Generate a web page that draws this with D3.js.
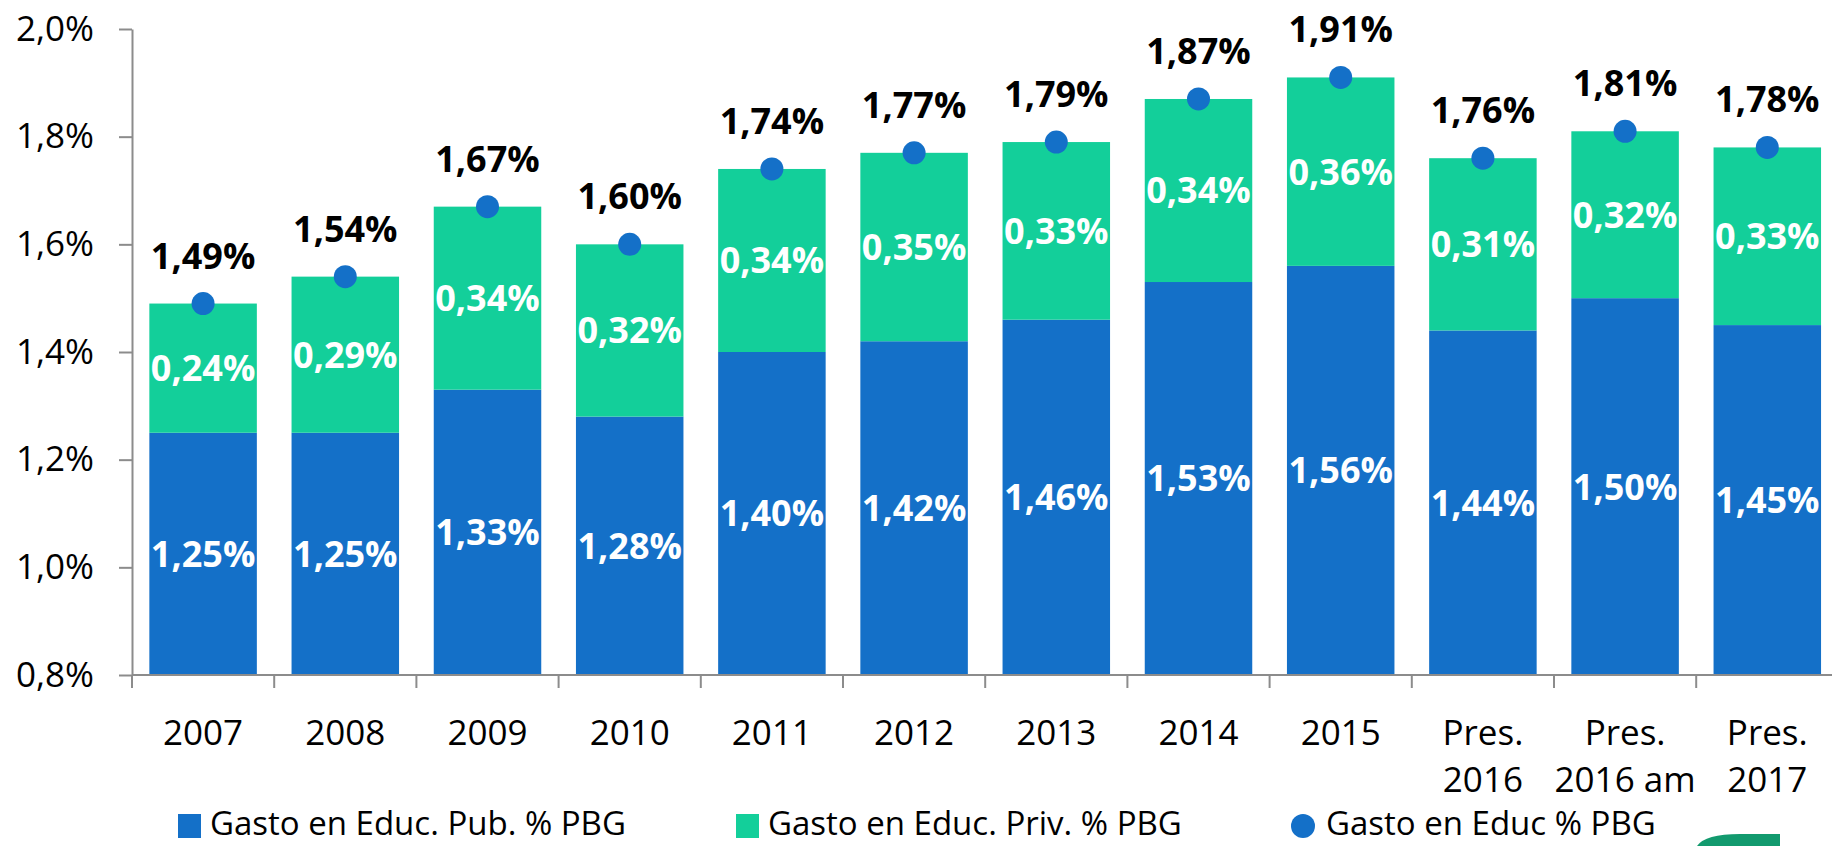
<!DOCTYPE html>
<html>
<head>
<meta charset="utf-8">
<script src="https://cdn.jsdelivr.net/npm/d3@7/dist/d3.min.js"></script>
<style>
  body { margin: 0; background: #fff; overflow: hidden; }
  text { font-family: "Open Sans", "Noto Sans", sans-serif; }
</style>
</head>
<body>
<div id="chart"></div>
<script>
// data
const categories = ["2007", "2008", "2009", "2010", "2011", "2012", "2013", "2014", "2015", "Pres.\n2016", "Pres.\n2016 am", "Pres.\n2017"]
const pubValues = [1.25, 1.25, 1.33, 1.28, 1.40, 1.42, 1.46, 1.53, 1.56, 1.44, 1.50, 1.45]
const privValues = [0.24, 0.29, 0.34, 0.32, 0.34, 0.35, 0.33, 0.34, 0.36, 0.31, 0.32, 0.33]
const totalValues = [1.49, 1.54, 1.67, 1.60, 1.74, 1.77, 1.79, 1.87, 1.91, 1.76, 1.81, 1.78]
const yTicks = [0.8, 1.0, 1.2, 1.4, 1.6, 1.8, 2.0]
const legendLabels = ["Gasto en Educ. Pub. % PBG", "Gasto en Educ. Priv. % PBG", "Gasto en Educ % PBG"]

const width = 1832
const height = 846
const blue = "#1470c8"
const green = "#13cf9a"
const axisColor = "#8c8c8c"

const svg = d3
  .select("#chart")
  .append("svg")
  .attr("width", width)
  .attr("height", height)

const left = 132
const step = 142.2
const x = d3
  .scaleBand()
  .domain(categories)
  .range([left, left + step * categories.length])
  .paddingInner(0.244)
  .paddingOuter(0.122)

const y = d3.scaleLinear().domain([0.8, 2.0]).range([675, 29])

const fmt = (v, p) => d3.format("." + p + "f")(v).replace(".", ",") + "%"

//y axis
const yAxis = svg
  .append("g")
  .attr("transform", "translate(" + left + ",0)")
  .call(d3.axisLeft(y).tickValues(yTicks).tickSize(13).tickSizeOuter(0).tickPadding(25).tickFormat(d => fmt(d, 1)))
yAxis.selectAll("text").style("font-size", "35px").attr("fill", "#000")
yAxis.selectAll("line, path").attr("stroke", axisColor).attr("stroke-width", 2)

//bars - public part
svg
  .append("g")
  .selectAll("rect")
  .data(categories)
  .enter()
  .append("rect")
  .attr("x", d => x(d))
  .attr("width", x.bandwidth())
  .attr("y", (d, i) => y(pubValues[i]))
  .attr("height", (d, i) => y(0.8) - y(pubValues[i]))
  .attr("fill", blue)

//bars - private part, from the public top up to the total
svg
  .append("g")
  .selectAll("rect")
  .data(categories)
  .enter()
  .append("rect")
  .attr("x", d => x(d))
  .attr("width", x.bandwidth())
  .attr("y", (d, i) => y(totalValues[i]))
  .attr("height", (d, i) => y(pubValues[i]) - y(totalValues[i]))
  .attr("fill", green)

//x axis line and boundary ticks
const xAxis = svg.append("g").attr("transform", "translate(0," + y(0.8) + ")")
xAxis
  .append("line")
  .attr("x1", left)
  .attr("x2", width)
  .attr("stroke", axisColor)
  .attr("stroke-width", 2)
xAxis
  .selectAll(".tick")
  .data(d3.range(categories.length + 1))
  .enter()
  .append("line")
  .attr("x1", i => left + i * x.step())
  .attr("x2", i => left + i * x.step())
  .attr("y1", 0)
  .attr("y2", 13)
  .attr("stroke", axisColor)
  .attr("stroke-width", 2)

//category labels (two lines for the budget ones)
const catLabels = svg
  .append("g")
  .selectAll("text")
  .data(categories)
  .enter()
  .append("text")
  .attr("text-anchor", "middle")
  .style("font-size", "35px")
  .attr("fill", "#000")
catLabels
  .selectAll("tspan")
  .data(d => d.split("\n").map(t => ({ t: t, c: d })))
  .enter()
  .append("tspan")
  .attr("x", d => x(d.c) + x.bandwidth() / 2)
  .attr("y", (d, i) => 745 + i * 47)
  .text(d => d.t)

//white labels inside the segments
svg
  .append("g")
  .selectAll("text")
  .data(categories)
  .enter()
  .append("text")
  .attr("x", d => x(d) + x.bandwidth() / 2)
  .attr("y", (d, i) => (y(pubValues[i]) + y(0.8)) / 2)
  .attr("dy", "0.36em")
  .attr("text-anchor", "middle")
  .style("font-size", "36px")
  .style("font-weight", "bold")
  .attr("fill", "#fff")
  .text((d, i) => fmt(pubValues[i], 2))

svg
  .append("g")
  .selectAll("text")
  .data(categories)
  .enter()
  .append("text")
  .attr("x", d => x(d) + x.bandwidth() / 2)
  .attr("y", (d, i) => (y(pubValues[i]) + y(totalValues[i])) / 2)
  .attr("dy", "0.36em")
  .attr("text-anchor", "middle")
  .style("font-size", "36px")
  .style("font-weight", "bold")
  .attr("fill", "#fff")
  .text((d, i) => fmt(privValues[i], 2))

//total dots
svg
  .append("g")
  .selectAll("circle")
  .data(categories)
  .enter()
  .append("circle")
  .attr("cx", d => x(d) + x.bandwidth() / 2)
  .attr("cy", (d, i) => y(totalValues[i]))
  .attr("r", 11.5)
  .attr("fill", blue)

//total labels
svg
  .append("g")
  .selectAll("text")
  .data(categories)
  .enter()
  .append("text")
  .attr("x", d => x(d) + x.bandwidth() / 2)
  .attr("y", (d, i) => y(totalValues[i]) - 35)
  .attr("text-anchor", "middle")
  .style("font-size", "36px")
  .style("font-weight", "bold")
  .attr("fill", "#000")
  .text((d, i) => fmt(totalValues[i], 2))

//legend
const legendX = [178, 736, 1292]
const legend = svg
  .append("g")
  .selectAll("g")
  .data(legendLabels)
  .enter()
  .append("g")
  .attr("transform", (d, i) => "translate(" + legendX[i] + ",814)")

legend
  .filter((d, i) => i < 2)
  .append("rect")
  .attr("width", 23)
  .attr("height", 24)
  .attr("fill", (d, i) => (i == 0 ? blue : green))

legend
  .filter((d, i) => i == 2)
  .append("circle")
  .attr("cx", 11)
  .attr("cy", 12)
  .attr("r", 12)
  .attr("fill", blue)

legend
  .append("text")
  .attr("x", (d, i) => (i == 2 ? 34 : 32))
  .attr("y", 21)
  .style("font-size", "33px")
  .attr("fill", "#000")
  .text(d => d)

//bit of a logo peeking in at the bottom right
svg
  .append("path")
  .attr("d", "M1697,846 Q1705,834 1740,834 L1780,834 L1780,846 Z")
  .attr("fill", "#129a6e")
</script>
</body>
</html>
